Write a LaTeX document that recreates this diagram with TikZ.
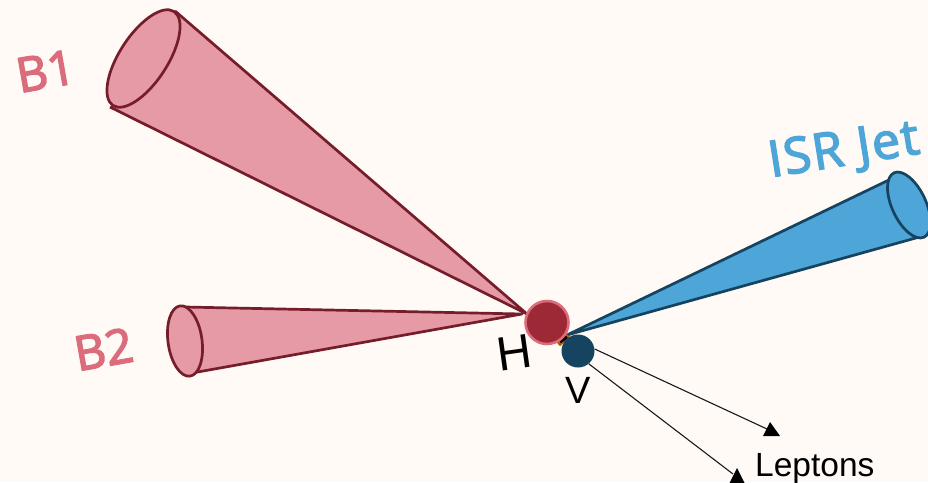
\documentclass[tikz,border=0pt]{standalone}
\usepackage{fontspec}
\setmainfont{Liberation Sans}
\newfontfamily\labelfont[FakeBold=3]{Open Sans}
\newfontfamily\widelabelfont[FakeBold=3,LetterSpace=3]{Open Sans}
\definecolor{paper}{HTML}{FFFAF6}
\definecolor{conepink}{HTML}{E59AA5}
\definecolor{conedark}{HTML}{751D2B}
\definecolor{labelpink}{HTML}{DB6C7C}
\definecolor{higgsfill}{HTML}{9D2836}
\definecolor{jetblue}{HTML}{4DA5D8}
\definecolor{jetdark}{HTML}{154360}
\tikzset{
  pinkcone/.style={draw=conedark,line width=2.7pt,line join=round},
  bluecone/.style={draw=jetdark,line width=2.7pt,line join=round},
  conelabel/.style={font=\labelfont\fontsize{48}{48}\selectfont,inner sep=0pt},
  darklabel/.style={font=\fontsize{48}{48}\selectfont,text=black,inner sep=0pt},
  lepton/.style={draw=black!90,line width=1.1pt},
  tipfill/.style={fill=black,draw=none}
}
\begin{document}
\begin{tikzpicture}[x=1pt,y=-1pt]
  \useasboundingbox (0,0) rectangle (928,482);
  \clip (0,0) rectangle (928,482);
  \fill[paper] (0,0) rectangle (928,482);

  % b-jet cones meeting at the Higgs decay vertex
  \coordinate (b1top) at (175,11);
  \coordinate (b1low) at (110,107);
  \coordinate (b1apex) at (527,314);
  \coordinate (b2top) at (185,307);
  \coordinate (b2low) at (192,373);
  \coordinate (b2apex) at (522,314);
  \fill[conepink] (b1top) -- (b1apex) -- (b1low) -- cycle;
  \draw[pinkcone] (b1top) -- (b1apex) -- (b1low);
  \draw[pinkcone,fill=conepink] (143.5,58.5) ellipse [x radius=56pt,y radius=24pt,rotate=57];
  \fill[conepink] (b2top) -- (b2apex) -- (b2low) -- cycle;
  \draw[pinkcone] (b2top) -- (b2apex) -- (b2low);
  \draw[pinkcone,fill=conepink] (185,341) ellipse [x radius=35.5pt,y radius=17pt,rotate=98];

  % ISR jet cone
  \coordinate (isrtop) at (893,178);
  \coordinate (isrlow) at (923,236);
  \coordinate (israpex) at (567,335);
  \fill[jetblue] (isrtop) -- (israpex) -- (isrlow) -- cycle;
  \draw[bluecone] (isrtop) -- (israpex) -- (isrlow);
  \draw[bluecone,fill=jetblue] (909,205) ellipse [x radius=35.5pt,y radius=17pt,rotate=115];

  % short segment seen between the two bosons
  \draw[orange!70!black,line width=6pt] (558,344) -- (568,335);
  \draw[black,line width=3pt] (560,342) -- (567,337);

  % bosons
  \node[circle,minimum size=43pt,inner sep=0pt,fill=higgsfill,draw=labelpink,line width=2.6pt] (higgs) at (547,322.5) {};
  \node[circle,minimum size=33pt,inner sep=0pt,fill=jetdark] (vboson) at (578,351) {};

  % lepton pair from the V decay
  \coordinate (lepA) at (767,429);
  \coordinate (lepB) at (733,474);
  \draw[lepton] (vboson.east) ++(0,-2) -- (lepA);
  \draw[lepton] (vboson.-50) -- (lepB);
  \fill[tipfill] (770,422) -- (780,436) -- (763,436) -- cycle;
  \fill[tipfill] (737,468) -- (746,486) -- (728,486) -- cycle;

  % labels
  \node[conelabel,text=labelpink,rotate=10] (b1label) at (45.5,71) {B1};
  \node[conelabel,text=labelpink,rotate=10] (b2label) at (103.5,349) {B2};
  \node[font=\widelabelfont\fontsize{50}{50}\selectfont,inner sep=0pt,text=jetblue,rotate=9] (isrlabel) at (844,152) {ISR Jet};
  \node[darklabel,rotate=8] (hlabel) at (514,353) {H};
  \node[font=\fontsize{38}{38}\selectfont,inner sep=0pt] (vlabel) at (578,390) {V};
  \node[font=\fontsize{33.5}{33.5}\selectfont,inner sep=0pt,anchor=base west] (leptonlabel) at (755,476) {Leptons};
\end{tikzpicture}
\end{document}
